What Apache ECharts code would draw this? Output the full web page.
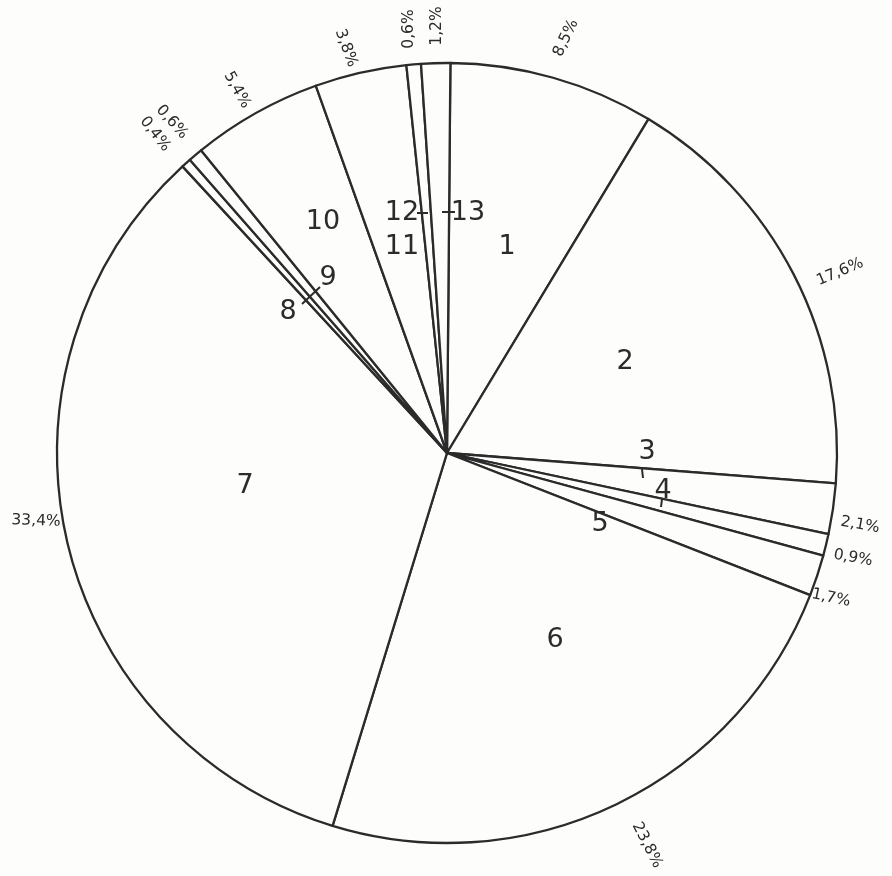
<!DOCTYPE html>
<html>
<head>
<meta charset="utf-8">
<script src="https://cdn.jsdelivr.net/npm/echarts@6/dist/echarts.min.js"></script>
<style>
html,body{margin:0;padding:0;background:#fdfdfb;}
#c{width:892px;height:876px;}
</style>
</head>
<body>
<div id="c"></div>
<script>
// ---- data ----
var categories = ['1','2','3','4','5','6','7','8','9','10','11','12','13'];
var values = [8.5, 17.6, 2.1, 0.9, 1.7, 23.8, 33.4, 0.4, 0.6, 5.4, 3.8, 0.6, 1.2];
var pctLabels = ['8,5%','17,6%','2,1%','0,9%','1,7%','23,8%','33,4%','0,4%','0,6%','5,4%','3,8%','0,6%','1,2%'];

// ---- layout of annotations (pixel positions, not data) ----
var numPos = [[507,247],[625,362],[647,452],[663,491],[600,524],[555,640],[245,486],[288,312],[328,278],[323,222],[402,247],[402,213],[468,213]];
var pctPos = [[566,38],[840,272],[860,525],[853,558],[831,598],[647,845],[36,521],[155,134],[172,122],[237,90],[346,48],[409,29],[437,26]];
var pctRot = [65,23,-10,-10,-12,-63,-2,-52,-48,-61,-70,90,90]; // degrees, counter-clockwise
var ticks = [[[642,469],[643,478]],[[662,499],[661,507]],[[302,304],[320,287]],[[417,213],[428,213]],[[442,212],[455,212]]];

var chart = echarts.init(document.getElementById('c'), null, {renderer:'canvas'});
var ink = '#2b2b2b';
var font = '"DejaVu Sans", "Liberation Sans", sans-serif';

var graphics = [];
categories.forEach(function(c, i){
  graphics.push({type:'text', x:numPos[i][0], y:numPos[i][1], z:100,
    style:{text:c, fill:ink, font:'27px ' + font, textAlign:'center', textVerticalAlign:'middle'}});
});
pctLabels.forEach(function(t, i){
  graphics.push({type:'text', x:pctPos[i][0], y:pctPos[i][1], rotation:pctRot[i]*Math.PI/180, z:100,
    style:{text:t, fill:ink, font:'15.5px ' + font, textAlign:'center', textVerticalAlign:'middle'}});
});
ticks.forEach(function(t){
  graphics.push({type:'line', z:100, shape:{x1:t[0][0], y1:t[0][1], x2:t[1][0], y2:t[1][1]},
    style:{stroke:ink, lineWidth:2}});
});

chart.setOption({
  backgroundColor:'#fdfdfb',
  animation:false,
  series:[{
    type:'pie',
    center:[447,453],
    radius:[0,390],
    startAngle:89.5,
    clockwise:true,
    avoidLabelOverlap:false,
    minAngle:0,
    label:{show:false},
    labelLine:{show:false},
    emphasis:{disabled:true},
    itemStyle:{color:'#fdfdfb', borderColor:ink, borderWidth:2.3},
    data: categories.map(function(c,i){ return {name:c, value:values[i]}; })
  }],
  graphic: graphics
});
</script>
</body>
</html>
